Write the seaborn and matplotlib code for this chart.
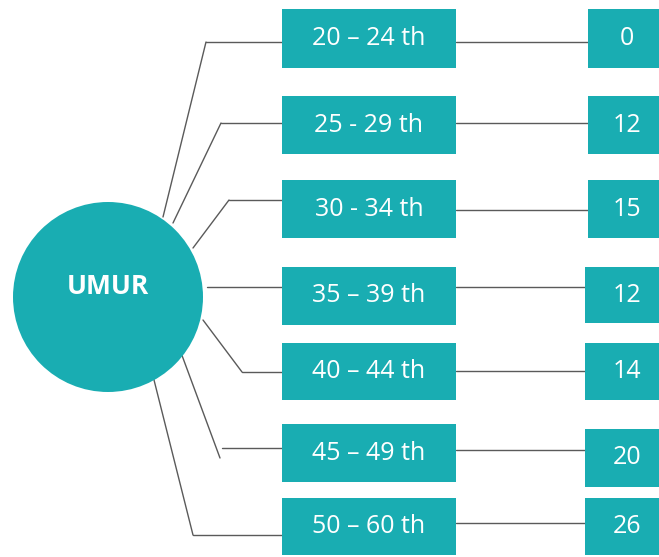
import matplotlib
matplotlib.use("Agg")
import matplotlib.pyplot as plt
from matplotlib.patches import Rectangle, Ellipse
import seaborn as sns

# ==========================================
# Data
# ==========================================
CENTER_LABEL = "UMUR"
AGE_GROUPS = ["20 – 24 th", "25 - 29 th", "30 - 34 th", "35 – 39 th",
              "40 – 44 th", "45 – 49 th", "50 – 60 th"]
COUNTS = [0, 12, 15, 12, 14, 20, 26]

# ==========================================
# Layout (pixel units, y grows downwards)
# ==========================================
TEAL = "#19adb2"
LINE = "#5a5a5a"
W, H = 659, 557

ROW_TOP = [9, 96, 180, 267, 343, 424, 498]
ROW_BOT = [68, 154, 238, 325, 400, 482, 555]
VAL_TOP = [9, 96, 180, 267, 343, 429, 498]
VAL_BOT = [68, 154, 238, 323, 400, 487, 555]
VAL_LEFT = [588, 588, 588, 585, 585, 585, 585]
LINK_Y = [42, 123, 210, 287, 371, 450, 523]
# elbow connectors from circle edge to each age box
ELBOW_START = [(163, 217), (173, 223), (193, 248), (207, 287),
               (203, 320), (180, 350), (152, 372)]
ELBOW_KNEE = [(206, 42), (221, 123), (229, 200), (207, 287),
              (242, 372), (220, 458), (193, 535)]
ELBOW_Y = [42, 123, 200, 287, 372, 448, 535]
ELBOW_X0 = [206, 221, 229, 207, 242, 222, 193]

BOX_LEFT, BOX_RIGHT = 282, 456
CIRCLE_CX, CIRCLE_CY, CIRCLE_R = 108, 297, 95

sns.set_theme(style="white")
plt.rcParams['font.family'] = ['Open Sans', 'DejaVu Sans']

fig = plt.figure(figsize=(W / 100, H / 100), dpi=100)
ax = fig.add_axes([0, 0, 1, 1])
ax.set_xlim(0, W)
ax.set_ylim(H, 0)
ax.axis("off")

# centre circle
ax.add_patch(Ellipse((CIRCLE_CX, CIRCLE_CY), 2 * CIRCLE_R, 2 * CIRCLE_R,
                     facecolor=TEAL, edgecolor="none", zorder=2))
ax.text(CIRCLE_CX, CIRCLE_CY - 11, CENTER_LABEL, color="white",
        fontsize=19, fontweight="bold", ha="center", va="center", zorder=3)

for i, (label, count) in enumerate(zip(AGE_GROUPS, COUNTS)):
    # connector circle -> age box
    sx, sy = ELBOW_START[i]
    kx, ky = ELBOW_KNEE[i]
    ax.plot([sx, kx], [sy, ky], color=LINE, lw=1, zorder=1)
    ax.plot([ELBOW_X0[i], BOX_LEFT], [ELBOW_Y[i], ELBOW_Y[i]],
            color=LINE, lw=1, zorder=1)

    # age box
    top, bot = ROW_TOP[i], ROW_BOT[i]
    ax.add_patch(Rectangle((BOX_LEFT, top), BOX_RIGHT - BOX_LEFT, bot - top,
                           facecolor=TEAL, edgecolor="none", zorder=2))
    ax.text((BOX_LEFT + BOX_RIGHT) / 2, (top + bot) / 2, label,
            color="white", fontsize=18, ha="center", va="center", zorder=3)

    # connector age box -> value box
    ax.plot([BOX_RIGHT, VAL_LEFT[i]], [LINK_Y[i], LINK_Y[i]],
            color=LINE, lw=1, zorder=1)

    # value box (runs off the right edge)
    vt, vb = VAL_TOP[i], VAL_BOT[i]
    ax.add_patch(Rectangle((VAL_LEFT[i], vt), W + 20 - VAL_LEFT[i], vb - vt,
                           facecolor=TEAL, edgecolor="none", zorder=2))
    ax.text(627, (vt + vb) / 2, str(count),
            color="white", fontsize=18, ha="center", va="center", zorder=3)

fig.savefig("out.png", dpi=100)
